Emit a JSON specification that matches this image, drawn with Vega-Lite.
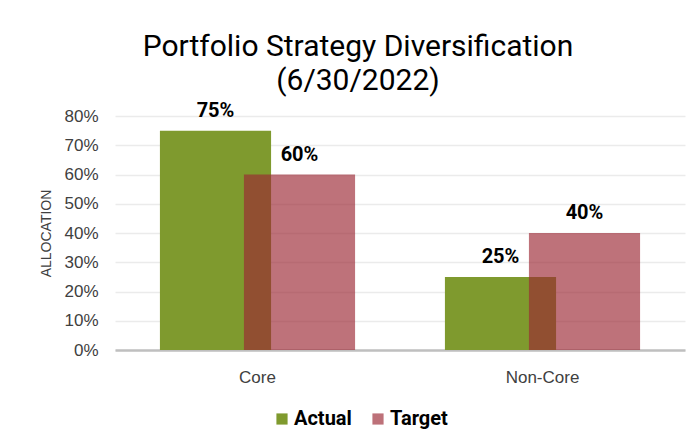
{
  "$schema": "https://vega.github.io/schema/vega-lite/v6.json",
  "width": 570,
  "height": 234,
  "autosize": {"type": "none"},
  "padding": {"left": 115, "top": 116, "right": 13, "bottom": 98},
  "background": "white",
  "title": {
    "text": ["Portfolio Strategy Diversification", "(6/30/2022)"],
    "font": "Roboto, sans-serif",
    "fontSize": 30,
    "fontWeight": "normal",
    "color": "#000000",
    "lineHeight": 34,
    "anchor": "middle",
    "frame": "group",
    "dx": -42,
    "offset": 5
  },
  "data": {
    "values": [
      {"category": "Core", "series": "Actual", "value": 0.75},
      {"category": "Core", "series": "Target", "value": 0.60},
      {"category": "Non-Core", "series": "Actual", "value": 0.25},
      {"category": "Non-Core", "series": "Target", "value": 0.40}
    ]
  },
  "encoding": {
    "x": {
      "field": "category",
      "type": "nominal",
      "scale": {"paddingInner": 0, "paddingOuter": 0},
      "axis": {
        "title": null,
        "labelAngle": 0,
        "labelFont": "Liberation Sans, Arial, sans-serif",
        "labelFontSize": 17,
        "labelColor": "#404040",
        "labelPadding": 19,
        "ticks": false,
        "domainColor": "#BFBFBF",
        "domainWidth": 2.5,
        "grid": false
      }
    },
    "y": {
      "field": "value",
      "type": "quantitative",
      "scale": {"domain": [0, 0.8], "nice": false},
      "axis": {
        "title": "ALLOCATION",
        "titleFont": "Liberation Sans, Arial, sans-serif",
        "titleFontSize": 14,
        "titleFontWeight": "normal",
        "titleColor": "#404040",
        "titlePadding": 10,
        "format": ".0%",
        "values": [0, 0.1, 0.2, 0.3, 0.4, 0.5, 0.6, 0.7, 0.8],
        "labelFont": "Liberation Sans, Arial, sans-serif",
        "labelFontSize": 17,
        "labelColor": "#404040",
        "labelPadding": 17,
        "ticks": false,
        "domain": false,
        "gridColor": "#EBEBEB",
        "gridWidth": 1.5
      }
    }
  },
  "layer": [
    {
      "transform": [{"filter": "datum.series === 'Actual'"}],
      "mark": {"type": "bar", "width": {"band": 0.39}, "xOffset": -42},
      "encoding": {
        "color": {
          "field": "series",
          "type": "nominal",
          "scale": {"domain": ["Actual", "Target"], "range": ["#7F9A2E", "#9B2633"]},
          "legend": {
            "title": null,
            "orient": "none",
            "legendX": 157,
            "legendY": 293,
            "direction": "horizontal",
            "labelFont": "Roboto, sans-serif",
            "labelFontSize": 20,
            "labelFontWeight": "bold",
            "labelColor": "#000000",
            "labelOffset": 2,
            "symbolType": "square",
            "symbolSize": 125,
            "columnPadding": 16
          }
        },
        "opacity": {
          "field": "series",
          "type": "nominal",
          "scale": {"domain": ["Actual", "Target"], "range": [1, 0.65]},
          "legend": {
            "title": null,
            "orient": "none",
            "legendX": 157,
            "legendY": 293,
            "direction": "horizontal"
          }
        }
      }
    },
    {
      "transform": [{"filter": "datum.series === 'Target'"}],
      "mark": {"type": "bar", "width": {"band": 0.39}, "xOffset": 42},
      "encoding": {
        "color": {"field": "series", "type": "nominal"},
        "opacity": {"field": "series", "type": "nominal"}
      }
    },
    {
      "transform": [{"filter": "datum.series === 'Actual'"}],
      "mark": {"type": "text", "xOffset": -42, "dy": -20, "font": "Roboto, sans-serif", "fontSize": 20, "fontWeight": "bold", "color": "#000000"},
      "encoding": {"text": {"field": "value", "type": "quantitative", "format": ".0%"}}
    },
    {
      "transform": [{"filter": "datum.series === 'Target'"}],
      "mark": {"type": "text", "xOffset": 42, "dy": -20, "font": "Roboto, sans-serif", "fontSize": 20, "fontWeight": "bold", "color": "#000000"},
      "encoding": {"text": {"field": "value", "type": "quantitative", "format": ".0%"}}
    }
  ],
  "config": {
    "view": {"stroke": null}
  }
}
